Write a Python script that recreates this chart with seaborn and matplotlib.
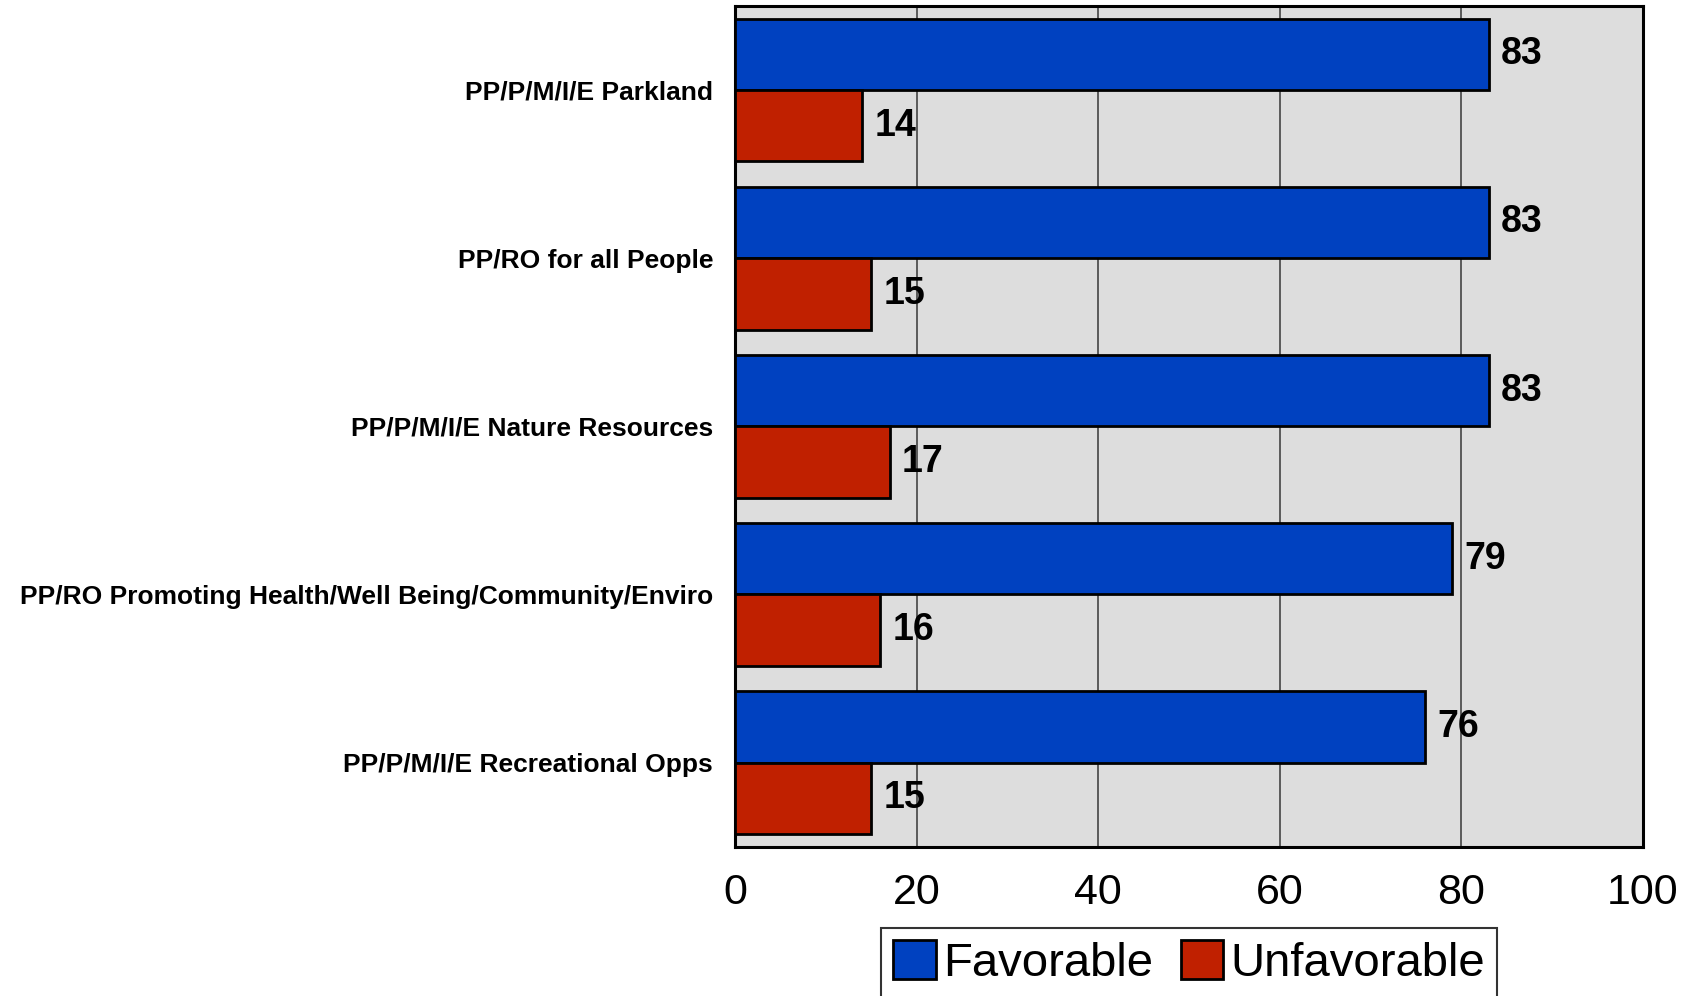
import pandas as pd
import matplotlib
matplotlib.use('Agg')
import matplotlib.pyplot as plt
import seaborn as sns
from matplotlib.patches import Patch

# данные с графика
categories = [
    'PP/P/M/I/E Parkland',
    'PP/RO for all People',
    'PP/P/M/I/E Nature Resources',
    'PP/RO Promoting Health/Well Being/Community/Enviro',
    'PP/P/M/I/E Recreational Opps',
]
favorable = [83, 83, 83, 79, 76]
unfavorable = [14, 15, 17, 16, 15]
series_names = ['Favorable', 'Unfavorable']
x_ticks = [0, 20, 40, 60, 80, 100]

colors = {'Favorable': '#0041C0', 'Unfavorable': '#C02000'}

df = pd.DataFrame({
    'Category': categories * 2,
    'Response': ['Favorable'] * len(categories) + ['Unfavorable'] * len(categories),
    'Value': favorable + unfavorable,
})

sns.set_style('white')
plt.rcParams['font.family'] = ['Liberation Sans', 'DejaVu Sans']
plt.rcParams['text.color'] = 'black'
plt.rcParams['xtick.color'] = 'black'
plt.rcParams['ytick.color'] = 'black'

fig = plt.figure(figsize=(16.98, 9.96), dpi=100)
ax = fig.add_axes([0.433, 0.150, 0.5346, 0.844])
ax.set_facecolor('#DDDDDD')

sns.barplot(data=df, x='Value', y='Category', hue='Response', orient='h',
            order=categories, hue_order=series_names, palette=colors,
            width=0.85, edgecolor='black', linewidth=2, saturation=1,
            legend=False, ax=ax, zorder=3)

for cont in ax.containers:
    ax.bar_label(cont, fmt='%d', padding=9, fontsize=27, fontweight='bold', color='black')

ax.set_xlim(0, 100)
ax.set_ylim(4.5, -0.5)
ax.set_xticks(x_ticks)
ax.set_xticklabels([str(t) for t in x_ticks], fontsize=31)
ax.tick_params(axis='x', length=0, pad=19)
ax.tick_params(axis='y', length=0, pad=16)
for lbl in ax.get_yticklabels():
    lbl.set_fontsize(19)
    lbl.set_fontweight('bold')
ax.set_xlabel('')
ax.set_ylabel('')

ax.grid(axis='x', color='#444444', linewidth=1.2, zorder=0)
ax.set_axisbelow(True)
for sp in ax.spines.values():
    sp.set_visible(True)
    sp.set_color('black')
    sp.set_linewidth(2.2)

handles = [Patch(facecolor=colors[n], edgecolor='black', linewidth=2, label=n) for n in series_names]
leg = ax.legend(handles=handles, loc='upper center', bbox_to_anchor=(0.5, -0.097),
                ncol=2, fontsize=34, frameon=True, fancybox=False,
                handlelength=0.9, handleheight=0.9, handletextpad=0.15,
                columnspacing=0.6, borderpad=0.25, borderaxespad=0)
leg.get_frame().set_edgecolor('black')
leg.get_frame().set_linewidth(1.5)

plt.savefig('out.png', dpi=100)
